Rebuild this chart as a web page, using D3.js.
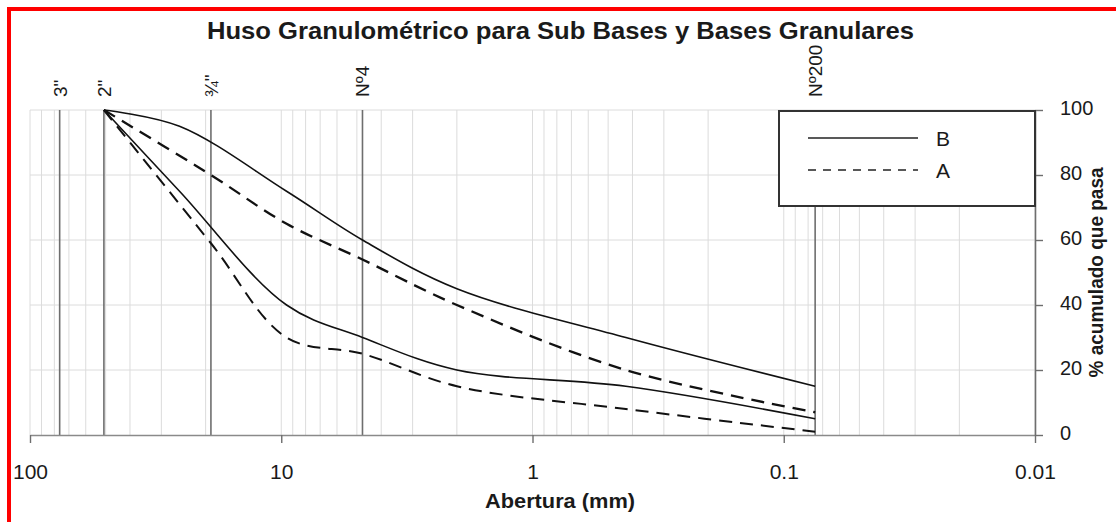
<!DOCTYPE html>
<html>
<head>
<meta charset="utf-8">
<script src="https://cdn.jsdelivr.net/npm/d3@7"></script>
<style>
  html, body { margin: 0; padding: 0; background: #fff; }
  svg { display: block; }
  text { font-family: "Liberation Sans", Arial, sans-serif; fill: #1a1a1a; }
</style>
</head>
<body>
<svg id="chart" width="1116" height="522"></svg>
<script>
// Sieve openings (mm) marked with reference lines
const sieveSizes = [76.2, 50.8, 19.05, 4.75, 0.075];
const sieveLabels = ['3"', '2"', '¾"', 'Nº4', 'Nº200'];

// Band B (solid): sieve sizes and % passing limits
const sizesB = [50.8, 25.4, 9.525, 4.75, 2.0, 0.425, 0.075];
const bUpper = [100, 95, 75, 60, 45, 30, 15];
const bLower = [100, 75, 40, 30, 20, 15, 5];

// Band A (dashed): sieve sizes and % passing limits
const sizesA = [50.8, 19.05, 9.525, 4.75, 2.0, 0.425, 0.075];
const aUpper = [100, 80, 65, 54, 40, 20, 7];
const aLower = [100, 59, 30, 25, 15, 8, 1];

// Axis ticks
const xTicks = [100, 10, 1, 0.1, 0.01];
const xTickLabels = ["100", "10", "1", "0.1", "0.01"];
const yTicks = [0, 20, 40, 60, 80, 100];
const legendLabels = ["B", "A"];

const svg = d3.select("#chart");

const x = d3.scaleLog().domain([100, 0.01]).range([30, 1035]);
const y = d3.scaleLinear().domain([0, 100]).range([435, 110]);

// Light log grid (1..9 per decade)
const minor = [];
[0.01, 0.1, 1, 10].forEach(d => { for (let k = 1; k <= 9; k++) minor.push(d * k); });
minor.push(100);

const grid = svg.append("g");
grid.selectAll("line.v").data(minor).join("line")
  .attr("x1", d => x(d)).attr("x2", d => x(d))
  .attr("y1", y(100)).attr("y2", y(0))
  .attr("stroke", "#dcdcdc").attr("stroke-width", 1);
grid.selectAll("line.h").data(yTicks.filter(v => v > 0)).join("line")
  .attr("x1", x(100)).attr("x2", x(0.01))
  .attr("y1", d => y(d)).attr("y2", d => y(d))
  .attr("stroke", "#dcdcdc").attr("stroke-width", 1);

// Sieve reference lines and labels
const sieves = svg.append("g");
sieves.selectAll("line").data(sieveSizes).join("line")
  .attr("x1", d => x(d)).attr("x2", d => x(d))
  .attr("y1", y(100)).attr("y2", y(0))
  .attr("stroke", "#6e6e6e").attr("stroke-width", 1.6);
sieves.selectAll("text").data(sieveSizes).join("text")
  .attr("transform", d => `translate(${x(d) + 7},97) rotate(-90)`)
  .attr("text-anchor", "start")
  .style("font-size", "19px")
  .text((d, i) => sieveLabels[i]);

// X axis (log, decreasing opening)
const xAxis = d3.axisBottom(x)
  .tickValues(xTicks)
  .tickFormat((d, i) => xTickLabels[i])
  .tickSize(8).tickSizeOuter(0).tickPadding(21);
const gx = svg.append("g").attr("transform", `translate(0,${y(0)})`).call(xAxis);
gx.select(".domain").attr("stroke", "#8a8a8a").attr("stroke-width", 1.6);
gx.selectAll(".tick line").attr("stroke", "#6e6e6e").attr("stroke-width", 1.4);
gx.selectAll(".tick text").style("font-size", "21px").attr("fill", "#1a1a1a")
  .style("font-family", '"Liberation Sans", Arial, sans-serif');

// Y axis on the right
const yAxis = d3.axisRight(y)
  .tickValues(yTicks)
  .tickSize(8).tickSizeOuter(0).tickPadding(17);
const gy = svg.append("g").attr("transform", `translate(${x(0.01)},0)`).call(yAxis);
gy.select(".domain").attr("stroke", "#6e6e6e").attr("stroke-width", 1.6);
gy.selectAll(".tick line").attr("stroke", "#6e6e6e").attr("stroke-width", 1.4);
gy.selectAll(".tick text").style("font-size", "20px").attr("fill", "#1a1a1a")
  .attr("dy", "0.22em")
  .style("font-family", '"Liberation Sans", Arial, sans-serif');

// Gradation curves
const curve = d3.curveCatmullRom.alpha(0.5);
const series = [
  { sizes: sizesB, vals: bUpper, dash: null, w: 1.6 },
  { sizes: sizesB, vals: bLower, dash: null, w: 1.6 },
  { sizes: sizesA, vals: aUpper, dash: "13,8", w: 2.3 },
  { sizes: sizesA, vals: aLower, dash: "13,8", w: 2.0 }
];
const line = d3.line().x(d => x(d[0])).y(d => y(d[1])).curve(curve);
svg.append("g").selectAll("path").data(series).join("path")
  .attr("d", s => line(s.sizes.map((sz, i) => [sz, s.vals[i]])))
  .attr("fill", "none")
  .attr("stroke", "#111")
  .attr("stroke-width", s => s.w)
  .attr("stroke-dasharray", s => s.dash);

// Legend
const lg = svg.append("g");
lg.append("rect")
  .attr("x", 779).attr("y", 111).attr("width", 256).attr("height", 95)
  .attr("fill", "#fff").attr("stroke", "#333").attr("stroke-width", 2);
const legendRows = lg.selectAll("g.row").data(legendLabels).join("g")
  .attr("transform", (d, i) => `translate(0,${138 + i * 32})`);
legendRows.append("line")
  .attr("x1", 808).attr("x2", 918).attr("y1", 0).attr("y2", 0)
  .attr("stroke", "#222").attr("stroke-width", 1.6)
  .attr("stroke-dasharray", (d, i) => i === 1 ? "8,7" : null);
legendRows.append("text")
  .attr("x", 936).attr("y", 7.5)
  .style("font-size", "21px")
  .text(d => d);

// Titles
svg.append("text")
  .attr("x", 560.5).attr("y", 38.5)
  .attr("text-anchor", "middle")
  .attr("textLength", 707).attr("lengthAdjust", "spacingAndGlyphs")
  .style("font-size", "23px").style("font-weight", "bold")
  .text("Huso Granulométrico para Sub Bases y Bases Granulares");

svg.append("text")
  .attr("x", 560).attr("y", 508)
  .attr("text-anchor", "middle")
  .attr("textLength", 150).attr("lengthAdjust", "spacingAndGlyphs")
  .style("font-size", "21px").style("font-weight", "bold")
  .text("Abertura (mm)");

svg.append("text")
  .attr("transform", "translate(1103,272.5) rotate(-90)")
  .attr("text-anchor", "middle")
  .attr("textLength", 210).attr("lengthAdjust", "spacingAndGlyphs")
  .style("font-size", "20px").style("font-weight", "bold")
  .text("% acumulado que pasa");

// Frame
svg.append("path")
  .attr("d", "M9,530 L9,9 L1130,9")
  .attr("fill", "none").attr("stroke", "#ff0000").attr("stroke-width", 4);
</script>
</body>
</html>
